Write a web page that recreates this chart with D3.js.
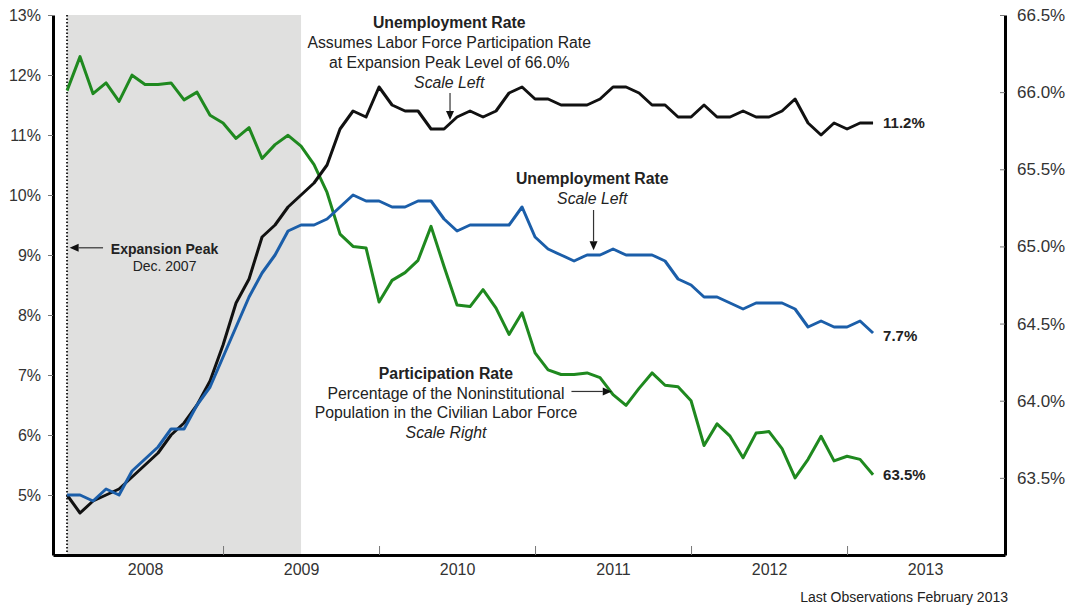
<!DOCTYPE html>
<html>
<head>
<meta charset="utf-8">
<script src="https://cdn.jsdelivr.net/npm/d3@7"></script>
<style>
  body { margin: 0; background: #fff; }
  svg { display: block; font-family: "Liberation Sans", Arial, sans-serif; }
  .axis text { fill: #333; }
</style>
</head>
<body>
<svg width="1071" height="607"></svg>
<script>
// months since Dec 2007 (0 = Dec 2007, 62 = Feb 2013)
const startYear = 2008;
const yearLabels = ['2008', '2009', '2010', '2011', '2012', '2013'];
const leftTicks = [5, 6, 7, 8, 9, 10, 11, 12, 13];
const rightTicks = [63.5, 64.0, 64.5, 65.0, 65.5, 66.0, 66.5];
const recession = [0, 18]; // Dec 2007 - Jun 2009

// unemployment rate, official (scale left)
const unemployment = [
  5.0,
  5.0, 4.9, 5.1, 5.0, 5.4, 5.6, 5.8, 6.1, 6.1, 6.5, 6.8, 7.3,
  7.8, 8.3, 8.7, 9.0, 9.4, 9.5, 9.5, 9.6, 9.8, 10.0, 9.9, 9.9,
  9.8, 9.8, 9.9, 9.9, 9.6, 9.4, 9.5, 9.5, 9.5, 9.5, 9.8, 9.3,
  9.1, 9.0, 8.9, 9.0, 9.0, 9.1, 9.0, 9.0, 9.0, 8.9, 8.6, 8.5,
  8.3, 8.3, 8.2, 8.1, 8.2, 8.2, 8.2, 8.1, 7.8, 7.9, 7.8, 7.8,
  7.9, 7.7
];

// unemployment rate assuming 66.0% participation (scale left)
const unemploymentAdj = [
  5.0,
  4.7, 4.9, 5.0, 5.1, 5.3, 5.5, 5.7, 6.0, 6.2, 6.5, 6.9, 7.5,
  8.2, 8.6, 9.3, 9.5, 9.8, 10.0, 10.2, 10.5, 11.1, 11.4, 11.3, 11.8,
  11.5, 11.4, 11.4, 11.1, 11.1, 11.3, 11.4, 11.3, 11.4, 11.7, 11.8, 11.6,
  11.6, 11.5, 11.5, 11.5, 11.6, 11.8, 11.8, 11.7, 11.5, 11.5, 11.3, 11.3,
  11.5, 11.3, 11.3, 11.4, 11.3, 11.3, 11.4, 11.6, 11.2, 11.0, 11.2, 11.1,
  11.2, 11.2
];

// labor force participation rate (scale right)
const participation = [
  66.01,
  66.23, 65.99, 66.06, 65.94, 66.11, 66.05, 66.05, 66.06, 65.95, 66.0, 65.85, 65.8,
  65.7, 65.77, 65.57, 65.66, 65.72, 65.65, 65.53, 65.35, 65.08, 65.0, 64.99, 64.64,
  64.78, 64.83, 64.91, 65.13, 64.87, 64.62, 64.61, 64.72, 64.6, 64.43, 64.57, 64.31,
  64.2, 64.17, 64.17, 64.18, 64.15, 64.04, 63.97, 64.08, 64.18, 64.1, 64.09, 64.0,
  63.71, 63.85, 63.77, 63.63, 63.79, 63.8, 63.69, 63.5, 63.62, 63.77, 63.61, 63.64,
  63.62, 63.52
];

const svg = d3.select('svg');
const margin = {top: 15, right: 66, bottom: 52, left: 53};
const width = 1071 - margin.left - margin.right;
const height = 607 - margin.top - margin.bottom;

const x = d3.scaleLinear().domain([-1.08, 72.15]).range([margin.left, margin.left + width]);
const yLeft = d3.scaleLinear().domain([4, 13]).range([margin.top + height, margin.top]);
const yRight = d3.scaleLinear().domain([63, 66.5]).range([margin.top + height, margin.top]);

// recession shading
svg.append('rect')
    .attr('x', x(recession[0]))
    .attr('y', margin.top)
    .attr('width', x(recession[1]) - x(recession[0]))
    .attr('height', height)
    .attr('fill', '#e0e0df');

// expansion peak line
svg.append('line')
    .attr('x1', x(0)).attr('x2', x(0))
    .attr('y1', margin.top).attr('y2', margin.top + height)
    .attr('stroke', '#222')
    .attr('stroke-width', 2)
    .attr('stroke-dasharray', '1.5,2');

// axes
const leftAxis = d3.axisLeft(yLeft)
    .tickValues(leftTicks)
    .tickFormat(d => d + '%')
    .tickSize(5)
    .tickSizeOuter(0)
    .tickPadding(7);
const gl = svg.append('g').attr('class', 'axis')
    .attr('transform', `translate(${margin.left},0)`)
    .call(leftAxis);

const rightAxis = d3.axisRight(yRight)
    .tickValues(rightTicks)
    .tickFormat(d => d.toFixed(1) + '%')
    .tickSizeInner(-5)
    .tickSizeOuter(0)
    .tickPadding(12);
const gr = svg.append('g').attr('class', 'axis')
    .attr('transform', `translate(${margin.left + width},0)`)
    .call(rightAxis);

const yearTicks = d3.range(1, yearLabels.length).map(i => i * 12);
const bottomTicks = d3.axisBottom(x)
    .tickValues(yearTicks)
    .tickFormat('')
    .tickSizeInner(-9)
    .tickSizeOuter(0);
const gb = svg.append('g').attr('class', 'axis')
    .attr('transform', `translate(0,${margin.top + height})`)
    .call(bottomTicks);

const bottomLabels = d3.axisBottom(x)
    .tickValues(yearLabels.map((d, i) => i * 12 + 6))
    .tickFormat((d, i) => yearLabels[i])
    .tickSize(0)
    .tickPadding(9);
const gbl = svg.append('g').attr('class', 'axis')
    .attr('transform', `translate(0,${margin.top + height})`)
    .call(bottomLabels);
gbl.select('.domain').remove();

[gl, gr, gb].forEach(g => {
  g.select('.domain').attr('stroke', '#000').attr('stroke-width', 3);
  g.selectAll('.tick line').attr('stroke', '#777').attr('stroke-width', 1);
});
gl.selectAll('text').style('font-size', '16px');
gr.selectAll('text').style('font-size', '17px');
gbl.selectAll('text').style('font-size', '16px');

// lines
const lineLeft = d3.line().x((d, i) => x(i)).y(d => yLeft(d));
const lineRight = d3.line().x((d, i) => x(i)).y(d => yRight(d));

svg.append('path')
    .attr('d', lineRight(participation))
    .attr('fill', 'none')
    .attr('stroke', '#1f891f')
    .attr('stroke-width', 3)
    .attr('stroke-linejoin', 'round');
svg.append('path')
    .attr('d', lineLeft(unemploymentAdj))
    .attr('fill', 'none')
    .attr('stroke', '#111')
    .attr('stroke-width', 3)
    .attr('stroke-linejoin', 'round');
svg.append('path')
    .attr('d', lineLeft(unemployment))
    .attr('fill', 'none')
    .attr('stroke', '#1b5ea9')
    .attr('stroke-width', 3)
    .attr('stroke-linejoin', 'round');

// end labels
const last = unemployment.length - 1;
const endLabels = [
  {text: unemploymentAdj[last].toFixed(1) + '%', y: yLeft(unemploymentAdj[last])},
  {text: unemployment[last].toFixed(1) + '%', y: yLeft(unemployment[last]) + 3},
  {text: '63.5%', y: yRight(participation[last])}
];
svg.selectAll('text.end')
    .data(endLabels)
    .enter()
    .append('text')
    .attr('class', 'end')
    .attr('x', x(last) + 10)
    .attr('y', d => d.y)
    .attr('dy', '0.36em')
    .style('font-size', '15px')
    .style('font-weight', 'bold')
    .attr('fill', '#222')
    .text(d => d.text);

// annotations
function textBlock(cx, y0, lines, step) {
  svg.append('g').selectAll('text')
      .data(lines)
      .enter()
      .append('text')
      .attr('x', cx)
      .attr('y', (d, i) => y0 + i * step)
      .attr('text-anchor', 'middle')
      .style('font-size', d => d.size || '15.8px')
      .style('font-weight', d => d.bold ? 'bold' : 'normal')
      .style('font-style', d => d.italic ? 'italic' : 'normal')
      .attr('fill', '#222')
      .text(d => d.t);
}

function arrow(x1, y1, x2, y2) {
  const ang = Math.atan2(y2 - y1, x2 - x1);
  const len = 9, half = 4;
  const bx = x2 - len * Math.cos(ang), by = y2 - len * Math.sin(ang);
  svg.append('line')
      .attr('x1', x1).attr('y1', y1).attr('x2', bx).attr('y2', by)
      .attr('stroke', '#333').attr('stroke-width', 1.2);
  svg.append('path')
      .attr('d', `M${x2},${y2}L${bx - half * Math.sin(ang)},${by + half * Math.cos(ang)}L${bx + half * Math.sin(ang)},${by - half * Math.cos(ang)}Z`)
      .attr('fill', '#111');
}

textBlock(x(29.4), 28, [
  {t: 'Unemployment Rate', bold: true},
  {t: 'Assumes Labor Force Participation Rate'},
  {t: 'at Expansion Peak Level of 66.0%'},
  {t: 'Scale Left', italic: true}
], 20);
arrow(x(29.46), 93, x(29.46), yLeft(11.25));

textBlock(x(40.4), 184, [
  {t: 'Unemployment Rate', bold: true},
  {t: 'Scale Left', italic: true}
], 19.5);
arrow(x(40.5), 210, x(40.5), yLeft(9.08));

textBlock(x(7.5), 254, [
  {t: 'Expansion Peak', bold: true, size: '14px'},
  {t: 'Dec. 2007', size: '14px'}
], 16.5);
arrow(x(2.77), yLeft(9.12), x(0.2), yLeft(9.12));

textBlock(x(29.15), 379, [
  {t: 'Participation Rate', bold: true},
  {t: 'Percentage of the Noninstitutional'},
  {t: 'Population in the Civilian Labor Force'},
  {t: 'Scale Right', italic: true}
], 19.5);
arrow(x(38.8), yRight(64.06), x(41.9), yRight(64.06));

svg.append('text')
    .attr('x', 1008)
    .attr('y', 602)
    .attr('text-anchor', 'end')
    .style('font-size', '14px')
    .attr('fill', '#222')
    .text('Last Observations February ' + (startYear + 5));
</script>
</body>
</html>
